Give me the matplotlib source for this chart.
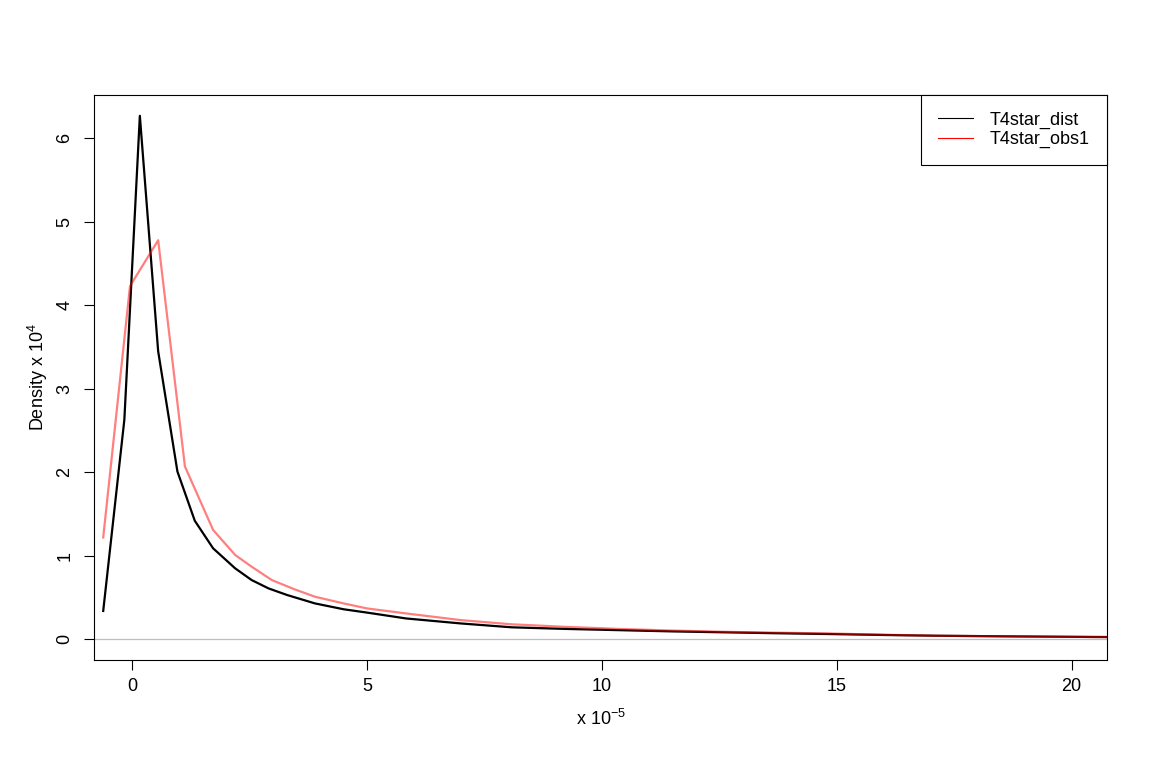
import matplotlib
matplotlib.use("Agg")
import matplotlib.pyplot as plt
from matplotlib.lines import Line2D

plt.rcParams['font.family'] = ['Liberation Sans', 'DejaVu Sans']
plt.rcParams['mathtext.default'] = 'regular'

# values (x in units of 1e-5, density in units of 1e4)
dist_x = [-0.62, -0.17, 0.16, 0.55, 0.96, 1.33, 1.72, 2.19, 2.54, 2.90, 3.30, 3.89,
          4.50, 5.00, 5.83, 7.00, 8.08, 9.20, 10.35, 11.50, 12.60, 13.70, 14.87,
          16.00, 17.13, 18.80, 20.50, 21.00]
dist_y = [0.34, 2.63, 6.27, 3.45, 2.01, 1.42, 1.09, 0.85, 0.71, 0.61, 0.53, 0.43,
          0.36, 0.32, 0.25, 0.19, 0.144, 0.125, 0.11, 0.095, 0.084, 0.073, 0.063,
          0.052, 0.043, 0.035, 0.028, 0.027]

obs_x = [-0.62, -0.05, 0.55, 1.12, 1.72, 2.19, 2.54, 2.97, 3.45, 3.89, 4.50, 5.00,
         5.83, 7.00, 8.08, 9.20, 10.35, 11.50, 12.60, 13.70, 14.87, 16.00, 17.13,
         18.80, 20.50, 21.00]
obs_y = [1.22, 4.23, 4.78, 2.07, 1.31, 1.01, 0.87, 0.71, 0.60, 0.51, 0.43, 0.37,
         0.31, 0.23, 0.18, 0.15, 0.125, 0.105, 0.09, 0.08, 0.07, 0.055, 0.043,
         0.035, 0.028, 0.027]

x_ticks = [0, 5, 10, 15, 20]
y_ticks = [0, 1, 2, 3, 4, 5, 6]
labels = ["T4star_dist", "T4star_obs1"]

fig = plt.figure(figsize=(11.57, 7.78), dpi=100)
ax = fig.add_axes([0.0815, 0.1513, 0.8755, 0.7272])

ax.axhline(0, color="#BEBEBE", linewidth=0.9, zorder=1)
ax.plot(dist_x, dist_y, color="black", linewidth=1.6, zorder=2)
ax.plot(obs_x, obs_y, color="red", alpha=0.5, linewidth=1.6, zorder=3)

ax.set_xlim(-0.81, 20.76)
ax.set_ylim(-0.251, 6.525)
ax.set_xticks(x_ticks)
ax.set_yticks(y_ticks)
ax.set_yticklabels([str(v) for v in y_ticks], rotation=90, va="center")
ax.tick_params(axis="both", length=7, width=0.8, labelsize=13, pad=6)
ax.tick_params(axis="y", pad=8)
for s in ax.spines.values():
    s.set_linewidth(0.8)

ax.set_xlabel(r"x $10^{-5}$", fontsize=13, labelpad=10)
ax.set_ylabel(r"Density x $10^{4}$", fontsize=13, labelpad=5)

handles = [Line2D([], [], color="black", linewidth=0.8),
           Line2D([], [], color="red", linewidth=0.8)]
leg = ax.legend(handles, labels, loc="upper right", borderaxespad=0,
                fancybox=False, framealpha=1, edgecolor="black", fontsize=13,
                handlelength=1.94, handletextpad=0.95, labelspacing=0.12,
                borderpad=0.95)
leg.get_frame().set_linewidth(0.8)

fig.savefig("out.png", dpi=100)
